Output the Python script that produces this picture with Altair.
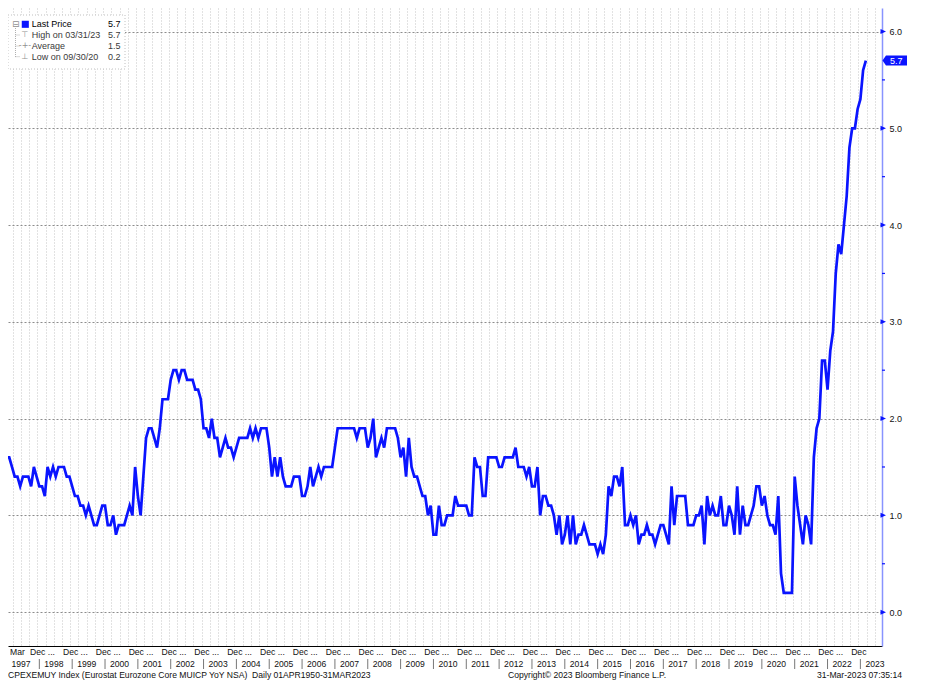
import altair as alt
import pandas as pd

# ---- data (monthly, Jan 1997 .. Mar 2023) ----
y1997 = [1.6, 1.6, 1.5, 1.4, 1.4, 1.3, 1.4, 1.4, 1.4, 1.3, 1.5, 1.4]
y1998 = [1.3, 1.3, 1.2, 1.5, 1.4, 1.5, 1.4, 1.5, 1.5, 1.5, 1.4, 1.4]
y1999 = [1.3, 1.2, 1.2, 1.1, 1.1, 1.0, 1.1, 1.0, 0.9, 0.9, 1.0, 1.1]
y2000 = [1.1, 0.9, 0.9, 1.0, 0.8, 0.9, 0.9, 0.9, 1.0, 1.1, 1.0, 1.5]
y2001 = [1.2, 1.0, 1.4, 1.8, 1.9, 1.9, 1.8, 1.7, 1.9, 2.2, 2.2, 2.2]
y2002 = [2.4, 2.5, 2.5, 2.4, 2.5, 2.5, 2.4, 2.4, 2.4, 2.3, 2.3, 2.2]
y2003 = [1.9, 1.9, 1.8, 2.0, 1.8, 1.8, 1.6, 1.7, 1.8, 1.7, 1.7, 1.6]
y2004 = [1.7, 1.8, 1.8, 1.8, 1.8, 1.9, 1.8, 1.9, 1.8, 1.9, 1.9, 1.9]
y2005 = [1.7, 1.4, 1.6, 1.4, 1.6, 1.4, 1.3, 1.3, 1.3, 1.4, 1.4, 1.4]
y2006 = [1.2, 1.2, 1.3, 1.5, 1.3, 1.4, 1.5, 1.4, 1.5, 1.5, 1.5, 1.5]
y2007 = [1.7, 1.9, 1.9, 1.9, 1.9, 1.9, 1.9, 1.9, 1.8, 1.9, 1.9, 1.9]
y2008 = [1.7, 1.8, 2.0, 1.6, 1.7, 1.8, 1.7, 1.9, 1.9, 1.9, 1.9, 1.8]
y2009 = [1.6, 1.7, 1.4, 1.8, 1.5, 1.4, 1.4, 1.3, 1.2, 1.2, 1.0, 1.1]
y2010 = [0.8, 0.8, 1.1, 0.9, 0.9, 1.0, 1.0, 1.0, 1.2, 1.1, 1.1, 1.1]
y2011 = [1.1, 1.0, 1.0, 1.6, 1.5, 1.5, 1.2, 1.2, 1.6, 1.6, 1.6, 1.6]
y2012 = [1.5, 1.5, 1.6, 1.6, 1.6, 1.6, 1.7, 1.5, 1.5, 1.5, 1.4, 1.5]
y2013 = [1.3, 1.3, 1.5, 1.0, 1.2, 1.2, 1.1, 1.1, 1.0, 0.8, 1.0, 0.7]
y2014 = [0.8, 1.0, 0.7, 1.0, 0.7, 0.8, 0.8, 0.9, 0.8, 0.7, 0.7, 0.7]
y2015 = [0.6, 0.7, 0.6, 0.8, 1.3, 1.2, 1.4, 1.4, 1.3, 1.5, 0.9, 0.9]
y2016 = [1.0, 0.9, 1.0, 0.7, 0.8, 0.8, 0.9, 0.8, 0.8, 0.7, 0.8, 0.9]
y2017 = [0.9, 0.8, 0.7, 1.3, 0.9, 1.2, 1.2, 1.2, 1.2, 0.9, 0.9, 0.9]
y2018 = [1.0, 1.0, 1.1, 0.7, 1.2, 1.0, 1.1, 1.0, 1.0, 1.2, 0.9, 0.9]
y2019 = [1.1, 1.0, 0.8, 1.3, 0.8, 1.1, 0.9, 0.9, 1.0, 1.1, 1.3, 1.3]
y2020 = [1.1, 1.2, 1.0, 0.9, 0.9, 0.8, 1.2, 0.4, 0.2, 0.2, 0.2, 0.2]
y2021 = [1.4, 1.1, 0.9, 0.7, 1.0, 0.9, 0.7, 1.6, 1.9, 2.0, 2.6, 2.6]
y2022 = [2.3, 2.7, 2.9, 3.5, 3.8, 3.7, 4.0, 4.3, 4.8, 5.0, 5.0, 5.2]
y2023 = [5.3, 5.6, 5.7]

yearly = [y1997, y1998, y1999, y2000, y2001, y2002, y2003, y2004, y2005,
          y2006, y2007, y2008, y2009, y2010, y2011, y2012, y2013, y2014,
          y2015, y2016, y2017, y2018, y2019, y2020, y2021, y2022, y2023]
first_year = 1997

values = [v for yr in yearly for v in yr]
months = list(range(len(values)))          # 0 = Jan 1997

y_ticks = [0, 1, 2, 3, 4, 5, 6]
y_minor = [0.5, 1.5, 2.5, 3.5, 4.5, 5.5]
year_labels = [str(first_year + i) for i in range(len(yearly))]
dec_labels = ["Dec ..."] * 25 + ["Dec"]

legend_labels = ["Last Price", "High on 03/31/23", "Average", "Low on 09/30/20"]
legend_values = ["5.7", "5.7", "1.5", "0.2"]
last_value = 5.7

footer_left = "CPEXEMUY Index (Eurostat Eurozone Core MUICP YoY NSA)\u00a0 Daily 01APR1950-31MAR2023"
footer_mid = "Copyright\u00a9 2023 Bloomberg Finance L.P."
footer_right = "31-Mar-2023 07:35:14"

# ---- layout / style ----
W, H = 874, 638
K_MIN, K_MAX = 0.548, 319.9
V_MIN, V_MAX = -0.35, 6.243
FONT = "Liberation Sans, Arial, sans-serif"
FS = 8.6
BLUE = "#0a14ff"

df = pd.DataFrame({"k": months, "v": values})
grid_k = [2.3 + 3 * j for j in range(106)]

xs = alt.Scale(domain=[K_MIN, K_MAX], nice=False, zero=False)
ys = alt.Scale(domain=[V_MIN, V_MAX], nice=False, zero=False)

X_AXIS = alt.Axis(
    values=grid_k, grid=True, gridColor="#c4c4c4", gridDash=[1, 2], gridWidth=1,
    labels=False, ticks=False, domain=True, domainColor="#000000", domainWidth=1,
    title=None)
Y_AXIS = alt.Axis(
    orient="right", values=y_ticks, format=".1f", grid=True, gridColor="#8c8c8c",
    gridDash=[2, 2], gridWidth=1, ticks=False, domain=True, domainColor="#8893ff",
    domainWidth=1.5, labelPadding=7, labelFont=FONT, labelFontSize=FS + 0.4,
    labelColor="#111111", title=None)


def xenc():
    return alt.X("k:Q", scale=xs, axis=X_AXIS)


def yenc():
    return alt.Y("v:Q", scale=ys, axis=Y_AXIS)


layers = []

line = alt.Chart(df).mark_line(color=BLUE, strokeWidth=2.7, clip=True).encode(
    x=xenc(), y=yenc())
layers.append(line)

# right-axis major tick arrows and minor ticks
maj = pd.DataFrame({"k": [K_MAX] * len(y_ticks), "v": y_ticks})
layers.append(alt.Chart(maj).mark_point(
    shape="M-1.5,-2.5L4,0L-1.5,2.5Z", size=4, filled=True, color=BLUE, opacity=1
).encode(x=xenc(), y=yenc()))
mnr = pd.DataFrame({"k": [K_MAX] * len(y_minor), "v": y_minor})
layers.append(alt.Chart(mnr).mark_point(
    shape="M0,-0.6L3,-0.6L3,0.6L0,0.6Z", size=4, filled=True, color=BLUE, opacity=1
).encode(x=xenc(), y=yenc()))

# last price tag
tag = pd.DataFrame({"k": [K_MAX], "v": [last_value], "t": [f"{last_value:.1f}"]})
layers.append(alt.Chart(tag).mark_point(
    shape="M0.5,0L4,-5L25,-5L25,5L4,5Z", size=4, filled=True, color=BLUE, opacity=1
).encode(x=xenc(), y=yenc()))
layers.append(alt.Chart(tag).mark_text(
    font=FONT, fontSize=FS + 0.4, color="white", align="left", baseline="middle", dx=8
).encode(x=xenc(), y=yenc(), text="t:N"))

# bottom axis: first row ("Mar", "Dec ...")
mar = pd.DataFrame({"k": [2], "t": ["Mar"]})
layers.append(alt.Chart(mar).mark_text(
    font=FONT, fontSize=FS, color="#111111", align="left", baseline="middle", dx=-2
).encode(x=xenc(), y=alt.value(644), text="t:N"))
decs = pd.DataFrame({"k": [11 + 12 * j for j in range(len(dec_labels))], "t": dec_labels})
layers.append(alt.Chart(decs).mark_text(
    font=FONT, fontSize=FS, color="#111111", align="left", baseline="middle", dx=-6.5
).encode(x=xenc(), y=alt.value(644), text="t:N"))

# second row: years with separators
yrs = pd.DataFrame({"k": [12 * i for i in range(len(year_labels))], "t": year_labels})
layers.append(alt.Chart(yrs).mark_text(
    font=FONT, fontSize=FS, color="#111111", align="left", baseline="middle", dx=5
).encode(x=xenc(), y=alt.value(656), text="t:N"))
seps = pd.DataFrame({"k": [12 * i for i in range(1, len(year_labels))]})
layers.append(alt.Chart(seps).mark_rule(color="#777777", strokeWidth=1).encode(
    x=xenc(), y=alt.value(651), y2=alt.value(661)))

# footer
layers.append(alt.Chart(pd.DataFrame({"t": [footer_left]})).mark_text(
    font=FONT, fontSize=FS, color="#111111", align="left", baseline="middle"
).encode(x=alt.value(0), y=alt.value(667), text="t:N"))
layers.append(alt.Chart(pd.DataFrame({"t": [footer_mid]})).mark_text(
    font=FONT, fontSize=FS, color="#111111", align="left", baseline="middle"
).encode(x=alt.value(500), y=alt.value(667), text="t:N"))
layers.append(alt.Chart(pd.DataFrame({"t": [footer_right]})).mark_text(
    font=FONT, fontSize=FS, color="#111111", align="left", baseline="middle"
).encode(x=alt.value(809), y=alt.value(667), text="t:N"))

# legend box
one = pd.DataFrame({"a": [0]})
layers.append(alt.Chart(one).mark_rect(
    fill="white", stroke="#c0c0c0", strokeDash=[1, 2], strokeWidth=1
).encode(x=alt.value(0), x2=alt.value(117), y=alt.value(7), y2=alt.value(61)))
# tree connector
layers.append(alt.Chart(one).mark_rule(color="#b0b0b0", strokeDash=[1, 1]).encode(
    x=alt.value(7.5), y=alt.value(20), y2=alt.value(49)))
row_y = [16.3, 27, 38, 48.7]
for yy in row_y[1:]:
    layers.append(alt.Chart(one).mark_rule(color="#b0b0b0", strokeDash=[1, 1]).encode(
        x=alt.value(7.5), x2=alt.value(12), y=alt.value(yy)))
icons = ["\u229f", "\u22a4", "-+-", "\u22a5"]
icon_x = [7.8, 17, 17, 17]
for i, (lab, val) in enumerate(zip(legend_labels, legend_values)):
    d = pd.DataFrame({"lab": [lab], "val": [val], "ic": [icons[i]]})
    col = "#000000" if i == 0 else "#3a3a3a"
    layers.append(alt.Chart(d).mark_text(
        font=FONT, fontSize=FS + 0.4, color=col, align="left", baseline="middle"
    ).encode(x=alt.value(23.7), y=alt.value(row_y[i]), text="lab:N"))
    layers.append(alt.Chart(d).mark_text(
        font=FONT, fontSize=FS + 0.4, color=col, align="left", baseline="middle"
    ).encode(x=alt.value(100), y=alt.value(row_y[i]), text="val:N"))
    if i == 0:
        layers.append(alt.Chart(d).mark_text(
            font="DejaVu Sans", fontSize=9, color="#909090", align="center", baseline="middle"
        ).encode(x=alt.value(icon_x[i]), y=alt.value(row_y[i]), text="ic:N"))
        layers.append(alt.Chart(d).mark_square(
            size=50, color=BLUE, opacity=1, filled=True
        ).encode(x=alt.value(17.3), y=alt.value(row_y[i])))
    else:
        layers.append(alt.Chart(d).mark_text(
            font="DejaVu Sans", fontSize=8, color="#909090", align="center", baseline="middle"
        ).encode(x=alt.value(icon_x[i]), y=alt.value(row_y[i]), text="ic:N"))

chart = alt.layer(*layers).properties(
    width=W, height=H,
    padding={"left": 0, "top": 0, "right": 30, "bottom": 40},
    autosize=alt.AutoSizeParams(type="none"),
    background="white",
).configure_view(stroke=None)

chart.save("out.html", embed_options={"renderer": "svg", "actions": False})
